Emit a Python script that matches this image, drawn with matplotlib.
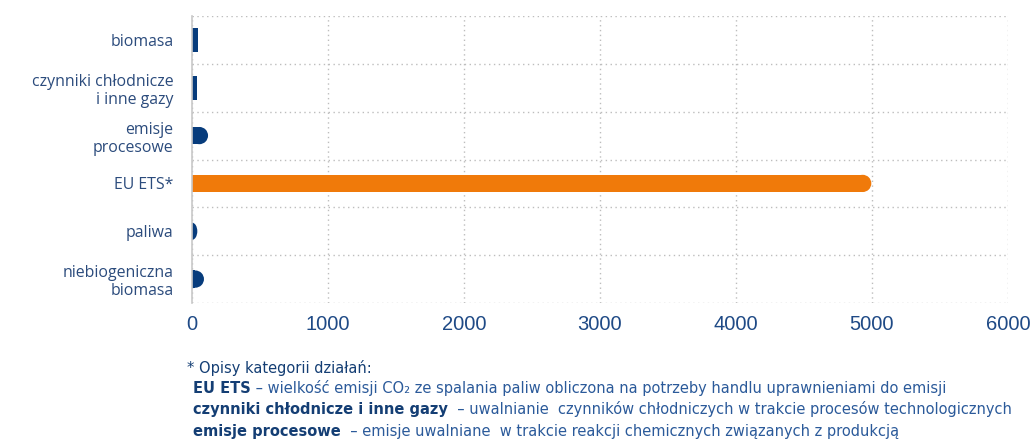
import matplotlib
matplotlib.use("Agg")
import matplotlib.pyplot as plt
from matplotlib.patches import Ellipse

categories = ["biomasa", "czynniki chłodnicze\ni inne gazy", "emisje\nprocesowe",
              "EU ETS*", "paliwa", "niebiogeniczna\nbiomasa"]
values = [47, 39, 118, 4995, 39, 88]
xticks = [0, 1000, 2000, 3000, 4000, 5000, 6000]

bar_colors = ["#073C7C", "#073C7C", "#073C7C", "#F07A0A", "#073C7C", "#073C7C"]
bar_heights = [0.5, 0.5, 0.36, 0.36, 0.36, 0.36]
rounded = [False, False, True, True, True, True]

footnote_title = "* Opisy kategorii działań:"
footnote_bold = ["EU ETS", "czynniki chłodnicze i inne gazy", "emisje procesowe"]
footnote_text = [" – wielkość emisji CO₂ ze spalania paliw obliczona na potrzeby handlu uprawnieniami do emisji",
                 "  – uwalnianie  czynników chłodniczych w trakcie procesów technologicznych",
                 "  – emisje uwalniane  w trakcie reakcji chemicznych związanych z produkcją"]

LABEL = "#2B4B7C"
TICK = "#1F4A86"
NAV = "#143E74"
TXT = "#2B5A9A"
GRID = "#BDBDBD"
FOOT = ["DejaVu Sans"]

fig = plt.figure(figsize=(10.33, 4.41), dpi=100)
ax = fig.add_axes([192 / 1033, 1 - 303 / 441, (1008 - 192) / 1033, (303 - 16) / 441])

ypos = list(range(len(categories)))
px_per_unit_x = (1008 - 192) / 6000.0
px_per_unit_y = (303 - 16) / 6.0
for y, v, c, h, r in zip(ypos, values, bar_colors, bar_heights, rounded):
    if r:
        rx = min(v, h / 2 * px_per_unit_y / px_per_unit_x)
        ax.barh(y, v - rx, height=h, color=c, linewidth=0, zorder=3)
        ax.add_patch(Ellipse((v - rx, y), 2 * rx, h, color=c, linewidth=0, zorder=3))
    else:
        ax.barh(y, v, height=h, color=c, linewidth=0, zorder=3)

ax.set_xlim(0, 6000)
ax.set_ylim(len(categories) - 0.5, -0.5)
ax.set_xticks(xticks)
ax.set_xticklabels([str(t) for t in xticks], family=["Liberation Sans", "DejaVu Sans"],
                   fontsize=14.5, color=TICK)
ax.set_yticks(ypos)
ax.set_yticklabels(categories, family=["Open Sans", "DejaVu Sans"], fontsize=11.4,
                   color=LABEL, multialignment="right")
ax.tick_params(axis="both", length=0)
ax.tick_params(axis="y", pad=13.5)
ax.tick_params(axis="x", pad=9)

ax.set_yticks([i - 0.5 for i in range(len(categories) + 1)], minor=True)
ax.tick_params(axis="y", which="minor", length=0)
ax.grid(axis="y", which="minor", color=GRID, linestyle=(0, (1, 2.5)), linewidth=1.0, zorder=0)
ax.grid(axis="x", which="major", color=GRID, linestyle=(0, (1, 2.5)), linewidth=1.0, zorder=0)
ax.grid(axis="y", which="major", visible=False)
for s in ["top", "right", "bottom"]:
    ax.spines[s].set_visible(False)
ax.spines["left"].set_color("#C8C8C8")
ax.spines["left"].set_linewidth(1.2)
ax.spines["left"].set_zorder(4)

# footnote
fig.text(187 / 1033, 1 - 368 / 441, footnote_title, family=FOOT, fontsize=10.5,
         color=NAV, va="center", ha="left")
line_y = [393, 414, 436]
for yy, b, t in zip(line_y, footnote_bold, footnote_text):
    tb = fig.text(193 / 1033, 1 - yy / 441, b, family=FOOT, fontsize=10.5,
                  fontweight="bold", color=NAV, va="baseline", ha="left")
    ax.annotate(t, xy=(1, 0), xycoords=tb, xytext=(0, 0), textcoords="offset points",
                family=FOOT, fontsize=10.5, color=TXT, va="bottom", ha="left",
                annotation_clip=False)

fig.savefig("out.png", dpi=100)
